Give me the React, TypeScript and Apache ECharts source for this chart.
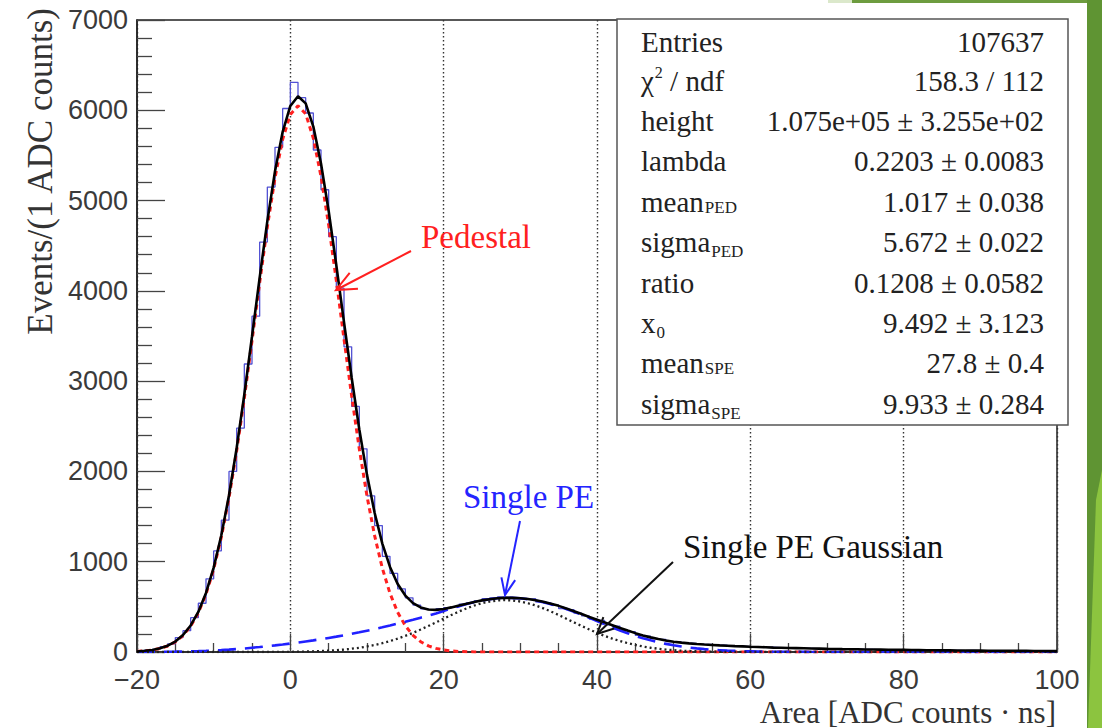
import React, { useEffect, useRef } from "react";
import * as echarts from "echarts";

const X_MIN = -20;
const X_MAX = 100;
const Y_MIN = 0;
const Y_MAX = 7000;

// histogram: 1-unit bins, low edges from -20 to 99
const binLowEdges: number[] = Array.from({ length: 120 }, (_, i) => X_MIN + i);
const histCounts = [
  8, 20, 29, 58, 90, 160, 236, 380, 540, 810,
  1120, 1460, 2000, 2480, 3190, 3720, 4540, 5150, 5590, 6020,
  6310, 6140, 5970, 5560, 5120, 4600, 4030, 3380, 2720, 2250,
  1730, 1400, 1060, 870, 700, 600, 520, 478, 470, 480,
  490, 500, 530, 545, 570, 590, 600, 610, 605, 590,
  585, 590, 555, 545, 520, 480, 470, 430, 400, 365,
  350, 300, 285, 240, 225, 185, 175, 148, 140, 115,
  112, 98, 96, 85, 84, 75, 76, 66, 65, 58,
  57, 52, 53, 47, 45, 46, 40, 41, 37, 38,
  33, 34, 31, 31, 28, 29, 26, 25, 26, 23,
  22, 23, 20, 20, 19, 17, 18, 16, 17, 15,
  14, 15, 13, 13, 12, 12, 11, 11, 10, 10,
];

// fit curves sampled at x = -20, -19, ..., 100
const fitX: number[] = Array.from({ length: 121 }, (_, i) => X_MIN + i);
const pedestalFit = [
  6, 12, 22, 39, 67, 112, 182, 286, 434, 641,
  917, 1272, 1710, 2228, 2814, 3447, 4091, 4708, 5252, 5679,
  5954, 6050, 5960, 5691, 5268, 4728, 4113, 3468, 2836, 2247,
  1726, 1286, 928, 649, 440, 290, 185, 114, 68, 40,
  22, 12, 6, 3, 1, 1, 0, 0, 0, 0,
  0, 0, 0, 0, 0, 0, 0, 0, 0, 0,
  0, 0, 0, 0, 0, 0, 0, 0, 0, 0,
  0, 0, 0, 0, 0, 0, 0, 0, 0, 0,
  0, 0, 0, 0, 0, 0, 0, 0, 0, 0,
  0, 0, 0, 0, 0, 0, 0, 0, 0, 0,
  0, 0, 0, 0, 0, 0, 0, 0, 0, 0,
  0, 0, 0, 0, 0, 0, 0, 0, 0, 0,
  0,
];
const singlePEFit = [
  0, 1, 1, 2, 3, 4, 6, 8, 10, 13,
  17, 21, 26, 32, 39, 47, 55, 64, 73, 83,
  94, 105, 117, 129, 142, 156, 170, 185, 201, 218,
  236, 254, 273, 293, 314, 335, 357, 380, 403, 427,
  455, 482, 508, 532, 553, 571, 585, 595, 600, 600,
  595, 585, 570, 552, 530, 505, 477, 446, 413, 378,
  342, 306, 271, 238, 207, 178, 152, 129, 108, 90,
  74, 61, 49, 40, 32, 25, 20, 15, 12, 9,
  7, 5, 4, 3, 2, 2, 1, 1, 0, 0,
  0, 0, 0, 0, 0, 0, 0, 0, 0, 0,
  0, 0, 0, 0, 0, 0, 0, 0, 0, 0,
  0, 0, 0, 0, 0, 0, 0, 0, 0, 0,
  0,
];
const singlePEGaussFit = [
  0, 0, 0, 0, 0, 0, 0, 0, 0, 0,
  0, 0, 0, 0, 0, 0, 0, 0, 1, 1,
  2, 4, 5, 8, 11, 15, 20, 27, 36, 47,
  61, 78, 98, 121, 148, 179, 212, 249, 288, 328,
  369, 410, 448, 484, 515, 540, 559, 571, 575, 571,
  559, 540, 515, 484, 448, 410, 369, 328, 288, 249,
  212, 179, 148, 121, 98, 78, 61, 47, 36, 27,
  20, 15, 11, 8, 5, 4, 2, 2, 1, 1,
  0, 0, 0, 0, 0, 0, 0, 0, 0, 0,
  0, 0, 0, 0, 0, 0, 0, 0, 0, 0,
  0, 0, 0, 0, 0, 0, 0, 0, 0, 0,
  0, 0, 0, 0, 0, 0, 0, 0, 0, 0,
  0,
];
const totalFit = [
  6, 13, 23, 41, 70, 116, 188, 294, 444, 654,
  934, 1293, 1736, 2260, 2853, 3494, 4146, 4772, 5325, 5762,
  6048, 6155, 6077, 5820, 5410, 4884, 4283, 3653, 3037, 2465,
  1962, 1540, 1201, 942, 754, 625, 542, 494, 471, 467,
  477, 494, 514, 535, 554, 572, 585, 595, 600, 600,
  596, 587, 573, 556, 535, 511, 483, 452, 420, 388,
  358, 328, 297, 266, 237, 209, 184, 162, 143, 127,
  114, 104, 96, 89, 83, 78, 73, 69, 65, 62,
  58, 55, 52, 49, 47, 45, 43, 41, 39, 37,
  35, 34, 32, 31, 30, 28, 27, 26, 25, 24,
  23, 22, 21, 20, 19, 18, 18, 17, 16, 15,
  15, 14, 14, 13, 13, 12, 12, 11, 11, 10,
  10,
];

// stats box texts
const statLabels: [string, string][][] = [
  [["Entries", "n"]],
  [["χ", "n"], ["2", "sup"], [" / ndf", "n"]],
  [["height", "n"]],
  [["lambda", "n"]],
  [["mean", "n"], ["PED", "subA"]],
  [["sigma", "n"], ["PED", "subB"]],
  [["ratio", "n"]],
  [["x", "n"], ["0", "subX"]],
  [["mean", "n"], ["SPE", "subA"]],
  [["sigma", "n"], ["SPE", "subB"]],
];
const statValues = [
  "107637",
  "158.3 / 112",
  "1.075e+05 ± 3.255e+02",
  "0.2203 ± 0.0083",
  "1.017 ± 0.038",
  "5.672 ± 0.022",
  "0.1208 ± 0.0582",
  "9.492 ± 3.123",
  "27.8 ± 0.4",
  "9.933 ± 0.284",
];

const xAxisTitle = "Area [ADC counts · ns]";
const yAxisTitle = "Events/(1 ADC counts)";
const annPedestal = "Pedestal";
const annSinglePE = "Single PE";
const annSinglePEGauss = "Single PE Gaussian";

const SERIF = "Liberation Serif";
const SANS = "Liberation Sans";

function arrow(x1: number, y1: number, x2: number, y2: number, color: string, len: number, ang: number) {
  const a = Math.atan2(y2 - y1, x2 - x1);
  const p1 = [x2 - len * Math.cos(a - ang), y2 - len * Math.sin(a - ang)];
  const p2 = [x2 - len * Math.cos(a + ang), y2 - len * Math.sin(a + ang)];
  return [
    { type: "line", z: 20, shape: { x1, y1, x2, y2 }, style: { stroke: color, lineWidth: 2 } },
    { type: "polyline", z: 20, shape: { points: [p1, [x2, y2], p2] }, style: { stroke: color, lineWidth: 2, fill: null } },
  ];
}

export default function App() {
  const ref = useRef<HTMLDivElement>(null);
  useEffect(() => {
    if (!ref.current) return;
    const chart = echarts.init(ref.current, undefined, { renderer: "svg" });

    const cv = document.createElement("canvas").getContext("2d")!;
    const tw = (t: string, size: number) => {
      cv.font = `${size}px "${SERIF}"`;
      return cv.measureText(t).width;
    };

    const histData = binLowEdges.map((x, i) => [x, histCounts[i]]);
    histData.push([X_MAX, histCounts[histCounts.length - 1]]);
    const pair = (arr: number[]) => fitX.map((x, i) => [x, arr[i]]);

    const STAT_SIZE = 29;
    const rowY = [42, 81, 121, 161, 202, 242, 283, 323, 363, 404];
    const segStyle: Record<string, { size: number; dy: number }> = {
      n: { size: STAT_SIZE, dy: 0 },
      sup: { size: 16, dy: -9 },
      subA: { size: 17, dy: 5 },
      subB: { size: 17, dy: 9 },
      subX: { size: 17, dy: 9 },
    };
    const statTexts: any[] = [];
    statLabels.forEach((segs, r) => {
      let x = 641;
      segs.forEach(([t, kind]) => {
        const s = segStyle[kind];
        statTexts.push({
          type: "text", z: 21, x, y: rowY[r] + s.dy,
          style: { text: t, fontSize: s.size, fontFamily: SERIF, fill: "#222", align: "left", verticalAlign: "middle" },
        });
        x += tw(t, s.size) + (kind === "n" ? 1 : 0);
      });
      statTexts.push({
        type: "text", z: 21, x: 1044, y: rowY[r],
        style: { text: statValues[r], fontSize: STAT_SIZE, fontFamily: SERIF, fill: "#222", align: "right", verticalAlign: "middle" },
      });
    });

    const graphic: any[] = [
      // slide decoration on the right
      { type: "rect", z: 1, shape: { x: 828, y: 0, width: 24, height: 3 }, style: { fill: "#dbe8cb" } },
      { type: "rect", z: 1, shape: { x: 852, y: 0, width: 250, height: 3 }, style: { fill: "#6d9c3f" } },
      { type: "rect", z: 1, shape: { x: 1087, y: 0, width: 15, height: 728 }, style: { fill: "#5f9433" } },
      { type: "polygon", z: 1, shape: { points: [[1096, 500], [1102, 470], [1102, 728], [1088, 728]] }, style: { fill: "#8cc43f" } },
      // stats box
      { type: "rect", z: 19, shape: { x: 617, y: 19, width: 451, height: 406 }, style: { fill: "#fff", stroke: "#555", lineWidth: 1.5 } },
      ...statTexts,
      // axis titles
      {
        type: "text", z: 21, x: 1056, y: 712,
        style: { text: xAxisTitle, fontSize: 31, fontFamily: SERIF, fill: "#333", align: "right", verticalAlign: "middle" },
      },
      {
        type: "text", z: 21, x: 40, y: 8, rotation: Math.PI / 2,
        style: { text: yAxisTitle, fontSize: 35, fontFamily: SERIF, fill: "#333", align: "right", verticalAlign: "middle" },
      },
      // annotations
      {
        type: "text", z: 21, x: 421, y: 237,
        style: { text: annPedestal, fontSize: 33, fontFamily: SERIF, fill: "#ff2020", align: "left", verticalAlign: "middle" },
      },
      ...arrow(411, 251, 336, 290, "#ff2020", 22, 0.42),
      {
        type: "text", z: 21, x: 463, y: 497,
        style: { text: annSinglePE, fontSize: 33, fontFamily: SERIF, fill: "#2424ff", align: "left", verticalAlign: "middle" },
      },
      ...arrow(520, 521, 505, 595, "#2424ff", 18, 0.4),
      {
        type: "text", z: 21, x: 683, y: 547,
        style: { text: annSinglePEGauss, fontSize: 33, fontFamily: SERIF, fill: "#111", align: "left", verticalAlign: "middle" },
      },
      ...arrow(673, 562, 597, 634, "#111", 18, 0.45),
    ];

    const tickColor = "#444";
    const option: any = {
      animation: false,
      backgroundColor: "#fff",
      grid: { left: 137, top: 20, right: 45, bottom: 76, show: true, borderColor: "#222", borderWidth: 1.5, backgroundColor: "transparent" },
      xAxis: {
        type: "value", min: X_MIN, max: X_MAX, interval: 20,
        axisLine: { show: true, onZero: false, lineStyle: { color: "#222", width: 1.5 } },
        axisTick: { show: true, inside: true, length: 18, lineStyle: { color: tickColor, width: 1.3 } },
        minorTick: { show: true, splitNumber: 4, length: 9, lineStyle: { color: tickColor, width: 1.3 } },
        axisLabel: {
          fontFamily: SANS, fontSize: 27, color: "#3a3a3a", margin: 14,
          formatter: (v: number) => (v < 0 ? "\u2212" + Math.abs(v) : String(v)),
        },
        splitLine: { show: true, lineStyle: { color: "#333", type: [1.5, 2.5], width: 1.4 } },
      },
      yAxis: {
        type: "value", min: Y_MIN, max: Y_MAX, interval: 1000,
        axisLine: { show: true, onZero: false, lineStyle: { color: "#222", width: 1.5 } },
        axisTick: { show: true, inside: true, length: 28, lineStyle: { color: tickColor, width: 1.3 } },
        minorTick: { show: true, splitNumber: 5, length: 15, lineStyle: { color: tickColor, width: 1.3 } },
        axisLabel: { fontFamily: SANS, fontSize: 27, color: "#3a3a3a", margin: 9, formatter: (v: number) => String(v) },
        splitLine: { show: false },
      },
      series: [
        {
          type: "line", name: "hist", data: histData, step: "end", symbol: "none",
          lineStyle: { color: "#5252d4", width: 1.3 }, silent: true, z: 2,
        },
        {
          type: "line", name: "pedestal", data: pair(pedestalFit), symbol: "none",
          lineStyle: { color: "#ff2020", width: 3, type: [5, 4] }, silent: true, z: 3,
        },
        {
          type: "line", name: "singlePE", data: pair(singlePEFit), symbol: "none",
          lineStyle: { color: "#2020ff", width: 2.6, type: [18, 9] }, silent: true, z: 3,
        },
        {
          type: "line", name: "singlePEGauss", data: pair(singlePEGaussFit), symbol: "none",
          lineStyle: { color: "#222", width: 2.3, type: [2, 3] }, silent: true, z: 3,
        },
        {
          type: "line", name: "total", data: pair(totalFit), symbol: "none",
          lineStyle: { color: "#000", width: 2.6 }, silent: true, z: 4,
        },
      ],
      graphic,
    };
    chart.setOption(option);
    return () => chart.dispose();
  }, []);
  return <div ref={ref} style={{ position: "fixed", left: 0, top: 0, width: 1102, height: 728 }} />;
}
